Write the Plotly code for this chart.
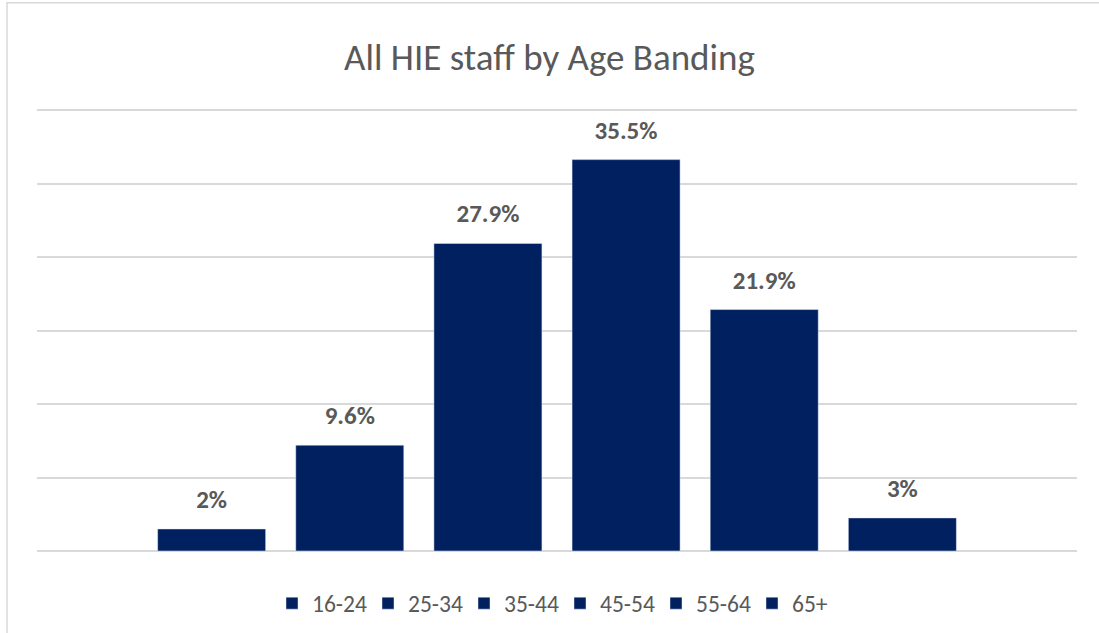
import plotly.graph_objects as go

age_bands = ["16-24", "25-34", "35-44", "45-54", "55-64", "65+"]
shares = [2.0, 9.6, 27.9, 35.5, 21.9, 3.0]
labels = ["2%", "9.6%", "27.9%", "35.5%", "21.9%", "3%"]
category = [""]

navy = "#002060"
grey_text = "#595959"
grid = "#d9d9d9"
font_family = "Carlito, Calibri, Lato, sans-serif"

fig = go.Figure()
for band, val in zip(age_bands, shares):
    fig.add_trace(go.Bar(
        name=band, x=category, y=[val],
        marker=dict(color=navy), hoverinfo="skip",
    ))
# data labels as grouped text points aligned with the bars
for band, val, lab in zip(age_bands, shares, labels):
    fig.add_trace(go.Scatter(
        x=category, y=[val], text=[lab], mode="markers+text",
        textposition="top center", showlegend=False, cliponaxis=False,
        marker=dict(size=22, color="rgba(0,0,0,0)"), hoverinfo="skip",
        textfont=dict(family=font_family, size=25, color=grey_text, weight="bold"),
    ))

fig.update_layout(
    width=1099, height=633,
    margin=dict(l=37, r=22, t=107, b=82, autoexpand=False),
    paper_bgcolor="white", plot_bgcolor="white",
    barmode="group", bargap=0.203, bargroupgap=0.218,
    scattermode="group", scattergap=0.203,
    title=dict(text="All HIE staff by Age Banding", x=0.5, xanchor="center",
               y=1 - 57 / 633, yanchor="middle",
               font=dict(family=font_family, size=37, color=grey_text)),
    font=dict(family=font_family, color=grey_text),
    showlegend=True,
    legend=dict(orientation="h", x=0.5 + 3 / 1040, xanchor="center", y=-0.118, yanchor="middle",
                font=dict(family=font_family, size=23.5, color=grey_text),
                entrywidth=51, entrywidthmode="pixels", itemwidth=30,
                traceorder="normal"),
    xaxis=dict(showticklabels=False, showline=False, showgrid=False, zeroline=False),
    yaxis=dict(range=[0, 40.272], dtick=40 / 6, tick0=0, showticklabels=False,
               showgrid=True, gridcolor=grid, gridwidth=1.5,
               zeroline=True, zerolinecolor=grid, zerolinewidth=1.5,
               showline=False),
)

fig.add_shape(type="rect", xref="paper", yref="paper",
              x0=(7 - 37) / 1040, x1=(1120 - 37) / 1040,
              y0=-0.3, y1=1.235,
              line=dict(color=grid, width=1.5), fillcolor="rgba(0,0,0,0)", layer="below")

fig.write_html("out.html")
